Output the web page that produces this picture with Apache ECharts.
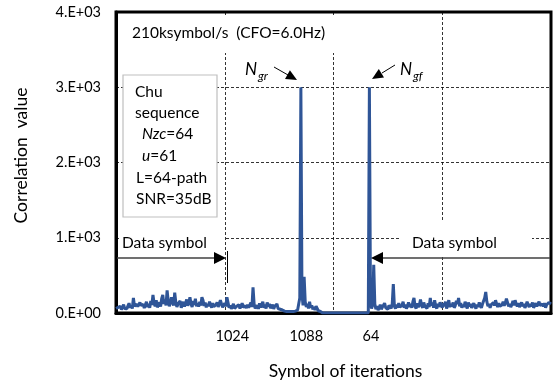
<!DOCTYPE html>
<html>
<head>
<meta charset="utf-8">
<script src="https://cdn.jsdelivr.net/npm/echarts@6/dist/echarts.min.js"></script>
<style>
html,body{margin:0;padding:0;background:#fff;}
#chart{width:557px;height:386px;}
</style>
</head>
<body>
<div id="chart"></div>
<script>
// Correlation value per iteration index (0..400)
const corrValues = [
  60, 40, 75, 50, 90, 45, 70, 110, 60, 80,
  55, 95, 130, 70, 100, 60, 200, 90, 70, 120,
  85, 60, 140, 100, 75, 115, 65, 90, 150, 80,
  120, 70, 160, 110, 240, 130, 90, 170, 75, 110,
  140, 85, 190, 240, 120, 180, 100, 300, 160, 90,
  130, 210, 150, 100, 270, 140, 80, 120, 95, 160,
  70, 110, 150, 85, 130, 180, 95, 140, 210, 120,
  80, 160, 110, 190, 90, 130, 85, 150, 100, 210,
  170, 95, 140, 75, 120, 90, 150, 110, 70, 130,
  85, 60, 110, 140, 80, 100, 170, 120, 75, 95,
  130, 90, 210, 140, 70, 100, 55, 80, 120, 60,
  45, 90, 70, 110, 60, 80, 130, 75, 50, 95,
  65, 110, 70, 90, 140, 80, 340, 120, 60, 85,
  100, 55, 130, 75, 95, 150, 70, 110, 60, 140,
  90, 120, 65, 80, 110, 55, 90, 70, 120, 60,
  80, 50, 65, 40, 30, 25, 20, 20, 15, 20,
  15, 20, 25, 20, 15, 25, 20, 40, 120, 200,
  3000, 250, 100, 480, 150, 80, 120, 60, 150, 70,
  100, 50, 80, 40, 90, 60, 30, 40, 20, 10,
  0, 0, 0, 0, 0, 0, 0, 0, 0, 0,
  0, 0, 0, 0, 0, 0, 0, 0, 0, 0,
  0, 0, 0, 0, 0, 0, 0, 0, 0, 0,
  0, 0, 0, 0, 0, 0, 0, 0, 0, 0,
  0, 0, 0, 3000, 150, 60, 110, 640, 120, 50,
  90, 40, 70, 110, 50, 80, 60, 130, 70, 90,
  50, 100, 80, 60, 120, 385, 90, 60, 110, 70,
  130, 80, 60, 100, 150, 70, 110, 60, 90, 140,
  80, 120, 70, 150, 200, 90, 60, 130, 80, 110,
  180, 100, 70, 140, 90, 110, 60, 130, 80, 200,
  100, 140, 70, 170, 90, 60, 120, 80, 140, 110,
  70, 130, 90, 150, 60, 110, 170, 80, 120, 90,
  140, 70, 100, 160, 120, 200, 90, 130, 70, 110,
  80, 150, 100, 60, 140, 90, 120, 70, 100, 130,
  90, 60, 110, 80, 140, 100, 70, 120, 160, 200,
  280, 150, 90, 120, 70, 110, 90, 140, 100, 170,
  120, 80, 130, 90, 70, 110, 150, 100, 130, 190,
  140, 90, 120, 80, 110, 160, 100, 170, 120, 90,
  130, 80, 110, 140, 90, 120, 70, 100, 150, 110,
  80, 120, 90, 140, 70, 100, 130, 90, 110, 150,
  100, 80, 120, 90, 130, 70, 110, 90, 140, 160,
  120
];
const xTickValues = [107, 175, 234.5];
const xTickLabels = ["1024", "1088", "64"];
const yTickLabels = ["0.E+00", "1.E+03", "2.E+03", "3.E+03", "4.E+03"];

const FONT = 'Lato';
const chart = echarts.init(document.getElementById('chart'), null, {renderer: 'canvas'});
const seriesData = corrValues.map((v, i) => [i, v]);

const gridDash = {color: '#000', width: 0.8, type: [3, 2]};

function arrowHead(tip, base1, base2) {
  return {type: 'polygon', z: 5, shape: {points: [tip, base1, base2]}, style: {fill: '#000'}};
}

const option = {
  animation: false,
  backgroundColor: '#fff',
  textStyle: {fontFamily: FONT},
  grid: {left: 116, right: 6, top: 12, bottom: 73, show: true, borderColor: '#000', borderWidth: 3, backgroundColor: 'transparent'},
  xAxis: {
    type: 'value', min: 0, max: 400, interval: 100,
    name: 'Symbol of iterations', nameLocation: 'middle', nameGap: 49,
    nameTextStyle: {fontFamily: FONT, fontSize: 17.5, color: '#000', padding: [0, 0, 0, 24]},
    axisLine: {show: true, lineStyle: {color: '#000', width: 3}},
    axisTick: {show: false},
    axisLabel: {
      customValues: xTickValues,
      formatter: function (v) { const k = xTickValues.indexOf(v); return k >= 0 ? xTickLabels[k] : ''; },
      fontFamily: FONT, fontSize: 14.5, color: '#000', margin: 16
    },
    splitLine: {show: true, lineStyle: gridDash}
  },
  yAxis: {
    type: 'value', min: 0, max: 4000, interval: 1000,
    name: 'Correlation  value', nameLocation: 'middle', nameGap: 86,
    nameTextStyle: {fontFamily: FONT, fontSize: 17.5, color: '#000', padding: [0, 0, 0, 14]},
    axisLine: {show: true, lineStyle: {color: '#000', width: 3}},
    axisTick: {show: false},
    axisLabel: {
      formatter: function (v) { return yTickLabels[Math.round(v / 1000)]; },
      fontFamily: FONT, fontSize: 14.5, color: '#000', margin: 15
    },
    splitLine: {show: true, lineStyle: gridDash}
  },
  series: [{
    type: 'line', data: seriesData, showSymbol: false, z: 3,
    lineStyle: {color: '#2F5597', width: 3}, itemStyle: {color: '#2F5597'}
  }],
  graphic: [
    // white backdrops for annotations
    {type: 'rect', z: 1, shape: {x: 119, y: 15, width: 221, height: 38}, style: {fill: '#fff'}},
    {type: 'rect', z: 1, shape: {x: 119, y: 222, width: 105, height: 34}, style: {fill: '#fff'}},
    {type: 'rect', z: 1, shape: {x: 400, y: 222, width: 132, height: 34}, style: {fill: '#fff'}},
    {type: 'rect', z: 1, shape: {x: 123, y: 75, width: 94, height: 142}, style: {fill: '#fff', stroke: '#bfbfbf', lineWidth: 1.2}},
    // title-like annotation
    {type: 'text', z: 5, x: 132, y: 33, style: {text: '210ksymbol/s  (CFO=6.0Hz)', font: '15.5px ' + FONT, fill: '#000', verticalAlign: 'middle'}},
    // Chu box text
    {type: 'text', z: 5, x: 135, y: 92, style: {text: 'Chu', font: '15.5px ' + FONT, fill: '#000', verticalAlign: 'middle'}},
    {type: 'text', z: 5, x: 135, y: 113, style: {text: 'sequence', font: '15.5px ' + FONT, fill: '#000', verticalAlign: 'middle'}},
    {type: 'text', z: 5, x: 142, y: 134, style: {text: '{i|Nzc}=64', font: '15.5px ' + FONT, fill: '#000', verticalAlign: 'middle', rich: {i: {fontStyle: 'italic', fontSize: 15.5, fontFamily: FONT}}}},
    {type: 'text', z: 5, x: 142, y: 156, style: {text: '{i|u}=61', font: '15.5px ' + FONT, fill: '#000', verticalAlign: 'middle', rich: {i: {fontStyle: 'italic', fontSize: 15.5, fontFamily: FONT}}}},
    {type: 'text', z: 5, x: 136, y: 178, style: {text: 'L=64-path', font: '15.5px ' + FONT, fill: '#000', verticalAlign: 'middle'}},
    {type: 'text', z: 5, x: 136, y: 199, style: {text: 'SNR=35dB', font: '15.5px ' + FONT, fill: '#000', verticalAlign: 'middle'}},
    // N_gr label and arrow
    {type: 'text', z: 5, x: 245, y: 70, style: {text: 'N', font: 'italic 17px ' + FONT, fill: '#000', verticalAlign: 'middle'}},
    {type: 'text', z: 5, x: 258, y: 76, style: {text: 'gr', font: 'italic 12px ' + FONT, fill: '#000', verticalAlign: 'middle'}},
    {type: 'line', z: 5, shape: {x1: 274, y1: 67, x2: 288, y2: 75}, style: {stroke: '#000', lineWidth: 1}},
    arrowHead([297, 80], [285.0, 79.0], [289.9, 70.2]),
    // N_gf label and arrow
    {type: 'text', z: 5, x: 400, y: 70, style: {text: 'N', font: 'italic 17px ' + FONT, fill: '#000', verticalAlign: 'middle'}},
    {type: 'text', z: 5, x: 413, y: 76, style: {text: 'gf', font: 'italic 12px ' + FONT, fill: '#000', verticalAlign: 'middle'}},
    {type: 'line', z: 5, shape: {x1: 395, y1: 65, x2: 382, y2: 73}, style: {stroke: '#000', lineWidth: 1}},
    arrowHead([372, 79], [378.8, 69.0], [384.0, 77.6]),
    // Data symbol (left)
    {type: 'text', z: 5, x: 122, y: 243, style: {text: 'Data symbol', font: '15.5px ' + FONT, fill: '#000', verticalAlign: 'middle'}},
    {type: 'line', z: 5, shape: {x1: 117, y1: 258, x2: 216, y2: 258}, style: {stroke: '#404040', lineWidth: 1.5}},
    arrowHead([226, 258], [214, 252], [214, 264]),
    {type: 'line', z: 5, shape: {x1: 227.5, y1: 251, x2: 227.5, y2: 283}, style: {stroke: '#000', lineWidth: 1}},
    // Data symbol (right)
    {type: 'text', z: 5, x: 412, y: 243, style: {text: 'Data symbol', font: '15.5px ' + FONT, fill: '#000', verticalAlign: 'middle'}},
    {type: 'line', z: 5, shape: {x1: 550, y1: 258, x2: 382, y2: 258}, style: {stroke: '#404040', lineWidth: 1.5}},
    arrowHead([371, 258], [383, 252], [383, 264])
  ]
};
chart.setOption(option);
</script>
</body>
</html>
